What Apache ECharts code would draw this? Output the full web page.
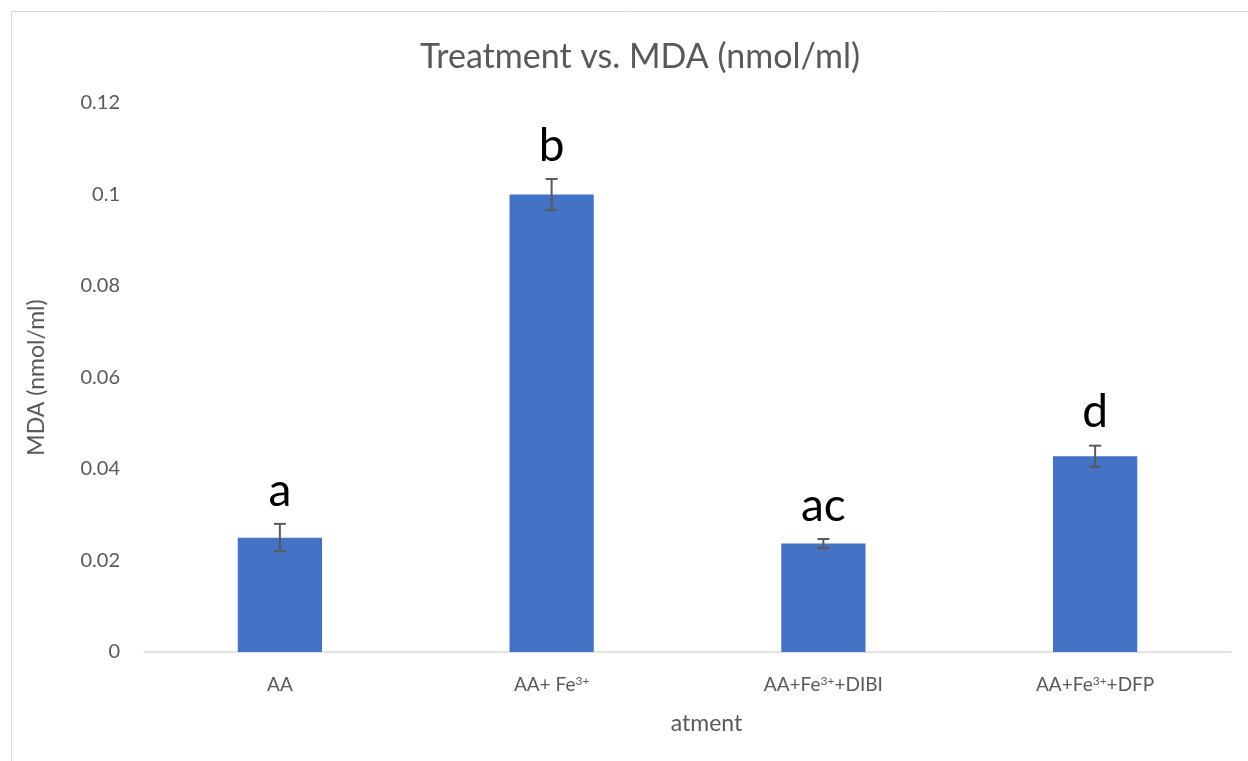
<!DOCTYPE html>
<html>
<head>
<meta charset="utf-8">
<script src="https://cdn.jsdelivr.net/npm/echarts@6/dist/echarts.min.js"></script>
<style>html,body{margin:0;padding:0;background:#fff;}#c{width:1248px;height:761px;}</style>
</head>
<body>
<div id="c"></div>
<script>
const categories = ['AA', 'AA+ Fe{sup|3+}', 'AA+Fe{sup|3+}+DIBI', 'AA+Fe{sup|3+}+DFP'];
const values = [0.025, 0.1, 0.0237, 0.0428];
const errors = [0.003, 0.0034, 0.001, 0.0023];
const letters = ['a', 'b', 'ac', 'd'];
const yTicks = { min: 0, max: 0.12, interval: 0.02 };

const FONT = 'Lato, "Open Sans", sans-serif';
const GRAY = '#595959';
const chart = echarts.init(document.getElementById('c'));

const errData = values.map((v, i) => [i, v, errors[i]]);

chart.setOption({
  animation: false,
  backgroundColor: '#fff',
  title: {
    text: 'Treatment vs. MDA (nmol/ml)',
    left: 635, top: 35, textAlign: 'center',
    textStyle: { fontFamily: FONT, fontSize: 34, fontWeight: 'normal', color: GRAY }
  },
  graphic: [
    { type: 'line', shape: { x1: 11.5, y1: 11.5, x2: 1248, y2: 11.5 }, style: { stroke: '#d9d9d9', lineWidth: 1 } },
    { type: 'line', shape: { x1: 11.5, y1: 11.5, x2: 11.5, y2: 761 }, style: { stroke: '#d9d9d9', lineWidth: 1 } }
  ],
  grid: { left: 144, right: 17, top: 103, bottom: 109, containLabel: false },
  xAxis: {
    type: 'category',
    data: categories,
    axisTick: { show: false },
    axisLine: { lineStyle: { color: '#d9d9d9', width: 1.5 } },
    axisLabel: {
      margin: 23, fontFamily: FONT, fontSize: 19, color: GRAY,
      rich: { sup: { fontSize: 12, verticalAlign: 'top', color: GRAY, fontFamily: FONT, padding: [0, 0, 8, 0] } }
    },
    name: 'atment', nameLocation: 'middle', nameGap: 60,
    nameTextStyle: { fontFamily: FONT, fontSize: 23, color: GRAY, padding: [0, 0, 0, 38] }
  },
  yAxis: {
    type: 'value', min: yTicks.min, max: yTicks.max, interval: yTicks.interval,
    splitLine: { show: false },
    axisLine: { show: false }, axisTick: { show: false },
    axisLabel: { margin: 24, fontFamily: FONT, fontSize: 20, color: GRAY, formatter: v => String(+v.toFixed(2)) },
    name: 'MDA (nmol/ml)', nameLocation: 'middle', nameGap: 96, nameRotate: 90,
    nameTextStyle: { fontFamily: FONT, fontSize: 23, color: GRAY }
  },
  series: [
    {
      type: 'bar', data: values, barWidth: '31%',
      itemStyle: { color: '#4472c4' }
    },
    {
      type: 'custom',
      data: errData,
      z: 10,
      renderItem: function (params, api) {
        const i = api.value(0), v = api.value(1), e = api.value(2);
        const top = api.coord([i, v + e]);
        const bot = api.coord([i, v - e]);
        const hw = 6;
        const st = { stroke: '#595959', lineWidth: 2 };
        return {
          type: 'group',
          children: [
            { type: 'line', shape: { x1: top[0], y1: top[1], x2: bot[0], y2: bot[1] }, style: st },
            { type: 'line', shape: { x1: top[0] - hw, y1: top[1], x2: top[0] + hw, y2: top[1] }, style: st },
            { type: 'line', shape: { x1: bot[0] - hw, y1: bot[1], x2: bot[0] + hw, y2: bot[1] }, style: st },
            { type: 'text', style: { text: letters[params.dataIndex], x: top[0], y: top[1] - 10, textAlign: 'center', textVerticalAlign: 'bottom', fontFamily: FONT, fontSize: 46, fill: '#000' } }
          ]
        };
      }
    }
  ]
});
</script>
</body>
</html>
